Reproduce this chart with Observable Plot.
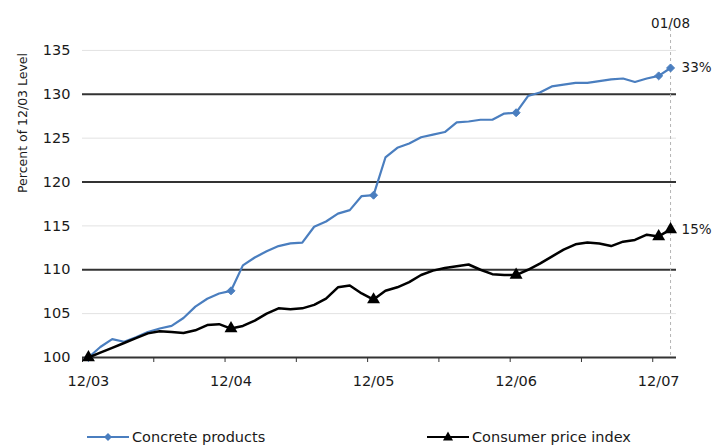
<!DOCTYPE html>
<html>
<head>
<meta charset="utf-8">
<script src="https://cdn.jsdelivr.net/npm/d3@7"></script>
<script src="https://cdn.jsdelivr.net/npm/@observablehq/plot@0.6"></script>
<style>
  body { margin: 0; background: #fff; font-family: "DejaVu Sans", sans-serif; }
  #chart { position: relative; width: 720px; height: 447px; }
  .legend { position: absolute; top: 428px; display: flex; align-items: center; font-size: 14.5px; color: #1a1a1a; }
  .legend svg { margin-right: 3px; }
</style>
</head>
<body>
<div id="chart"></div>
<script>
// Monthly index values, 12/03 = 100, from 12/03 through 01/08
const yearLabels = ["12/03", "12/04", "12/05", "12/06", "12/07"];
const lastLabel = "01/08";
const seriesNames = ["Concrete products", "Consumer price index"];
const axisTitle = "Percent of 12/03 Level";

const concrete = [
  100.0, 101.2, 102.1, 101.8, 102.3, 102.9, 103.3, 103.6, 104.5, 105.8, 106.7, 107.3,
  107.6, 110.5, 111.4, 112.1, 112.7, 113.0, 113.1, 114.9, 115.5, 116.4, 116.8, 118.4,
  118.5, 122.8, 123.9, 124.4, 125.1, 125.4, 125.7, 126.8, 126.9, 127.1, 127.1, 127.8,
  127.9, 129.8, 130.2, 130.9, 131.1, 131.3, 131.3, 131.5, 131.7, 131.8, 131.4, 131.8,
  132.1, 133.0
];
const cpi = [
  100.0, 100.55, 101.1, 101.65, 102.2, 102.75, 103.0, 102.9, 102.8, 103.1, 103.7, 103.8,
  103.3, 103.6, 104.2, 105.0, 105.6, 105.5, 105.6, 106.0, 106.7, 108.0, 108.2, 107.3,
  106.6, 107.6, 108.0, 108.6, 109.4, 109.9, 110.2, 110.4, 110.6, 110.0, 109.5, 109.4,
  109.4, 110.0, 110.7, 111.5, 112.3, 112.9, 113.1, 113.0, 112.7, 113.2, 113.4, 114.0,
  113.8, 114.6
];
// months that carry a marker: each December and the final month
const markedMonths = [0, 12, 24, 36, 48, 49];

const blue = "#4a7ebf";
const black = "#000";
const ink = "#1a1a1a";
const last = concrete.length - 1;
const pct = (v) => `${Math.round(v - 100)}%`;

const chart = Plot.plot({
  width: 720,
  height: 400,
  marginLeft: 82,
  marginRight: 44,
  marginTop: 28,
  marginBottom: 43,
  x: { domain: [-0.5, last + 0.5] },
  y: { domain: [100, 137.5] },
  style: { fontFamily: "DejaVu Sans", fontSize: "14px", color: ink, background: "#fff" },
  marks: [
    // light and heavy horizontal gridlines
    Plot.ruleY([105, 115, 125, 135], { stroke: "#e2e2e2", strokeWidth: 1 }),
    Plot.ruleY([110, 120, 130], { stroke: "#333", strokeWidth: 2 }),
    // dashed marker for the latest month
    Plot.ruleX([last], { stroke: "#b4b4b4", strokeDasharray: "3,3", strokeWidth: 1 }),
    Plot.text([lastLabel], { x: last, frameAnchor: "top", dy: -10, fontSize: 13.5, fill: ink }),
    // baseline
    Plot.ruleY([100], { stroke: "#333", strokeWidth: 2 }),
    Plot.axisY({ ticks: d3.range(100, 136, 5), tickSize: 0, tickPadding: 12, fontSize: 14.5 }),
    Plot.axisX({ ticks: d3.range(-0.5, last, 6), tickSize: 5, tickFormat: () => "", stroke: "#333" }),
    Plot.axisX({
      ticks: yearLabels.map((_, i) => i * 12),
      tickSize: 0,
      tickPadding: 18,
      fontSize: 14.5,
      tickFormat: (d) => yearLabels[d / 12]
    }),
    Plot.text([axisTitle], { frameAnchor: "left", rotate: -90, dx: -60, fontSize: 12.5, fill: ink }),
    // series
    Plot.line(concrete, { x: (d, i) => i, y: (d) => d, stroke: blue, strokeWidth: 2.2 }),
    Plot.line(cpi, { x: (d, i) => i, y: (d) => d, stroke: black, strokeWidth: 2.5 }),
    Plot.dot(markedMonths, { x: (d) => d, y: (d) => concrete[d], symbol: "diamond2", fill: blue, stroke: blue, strokeWidth: 1, r: 3.6 }),
    Plot.dot(markedMonths, { x: (d) => d, y: (d) => cpi[d], symbol: "triangle", fill: black, r: 4.8 }),
    // end-of-line change labels
    Plot.text([last], { x: (d) => d, y: (d) => concrete[d], text: (d) => pct(concrete[d]), textAnchor: "start", dx: 11, fontSize: 13.5, fill: ink }),
    Plot.text([last], { x: (d) => d, y: (d) => cpi[d], text: (d) => pct(cpi[d]), textAnchor: "start", dx: 11, fontSize: 13.5, fill: ink })
  ]
});

const root = document.getElementById("chart");
root.appendChild(chart);

// legend below the plot
function legendItem(name, color, symbol, left) {
  const div = document.createElement("div");
  div.className = "legend";
  div.style.left = left + "px";
  const marker = symbol === "diamond"
    ? `<path d="M21 5 L25 9 L21 13 L17 9 Z" fill="${color}"/>`
    : `<path d="M21 3.5 L26 12.5 L16 12.5 Z" fill="${color}"/>`;
  div.innerHTML = `<svg width="42" height="18"><line x1="0" x2="42" y1="9" y2="9" stroke="${color}" stroke-width="2.2"/>${marker}</svg><span>${name}</span>`;
  root.appendChild(div);
}
legendItem(seriesNames[0], blue, "diamond", 87);
legendItem(seriesNames[1], black, "triangle", 427);
</script>
</body>
</html>
